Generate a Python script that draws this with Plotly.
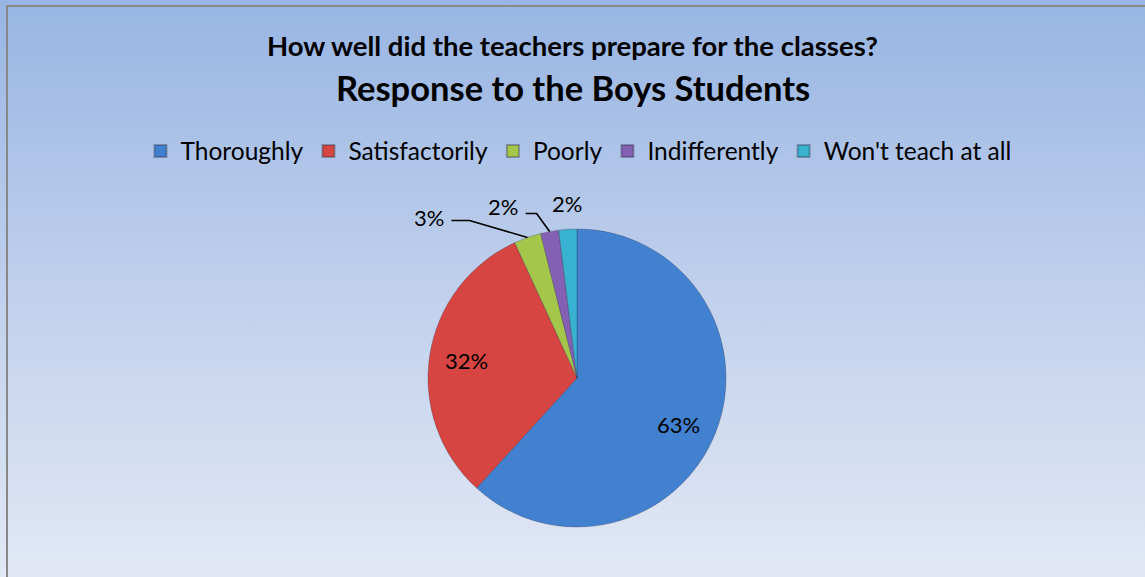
import base64
import math
import plotly.graph_objects as go

categories = ["Thoroughly", "Satisfactorily", "Poorly", "Indifferently", "Won't teach at all"]
percent_values = [63, 32, 3, 2, 2]
slice_colors = ["#4281cf", "#d64541", "#a4c64a", "#8460b4", "#38b2d0"]
title_line1 = "How well did the teachers prepare for the classes?"
title_line2 = "Response to the Boys Students"

W, H = 1145, 577
FONT = "Lato, 'Open Sans', sans-serif"

# pie geometry (pixels)
CX, CY, R = 577, 378, 149
# label styling: inside labels at a fraction of radius; outside labels offset from slice edge
INSIDE_FRAC = 0.75
label_style = [
    dict(kind="inside", shift=(-3, 6)),
    dict(kind="inside", shift=(0, 0)),
    dict(kind="outside", text=(-98, -20), leader=[(-58, -17), (-76, -17)]),
    dict(kind="outside", text=(-47, -25), leader=[(-13, -18), (-24, -18)]),
    dict(kind="outside", text=(-1, -26), leader=None),
]

svg = f'''<svg xmlns="http://www.w3.org/2000/svg" width="{W}" height="{H}" preserveAspectRatio="none">
<defs><linearGradient id="g" x1="0" y1="0" x2="0" y2="1">
<stop offset="0" stop-color="#98b5e3"/><stop offset="0.5" stop-color="#c0d0ec"/><stop offset="1" stop-color="#e2e8f5"/>
</linearGradient></defs><rect width="{W}" height="{H}" fill="url(#g)"/></svg>'''
bg_src = "data:image/svg+xml;base64," + base64.b64encode(svg.encode()).decode()


def px(x, y):
    return x / W, 1 - y / H


fig = go.Figure()
fig.add_trace(go.Pie(
    labels=categories,
    values=percent_values,
    sort=False,
    direction="clockwise",
    rotation=0,
    marker=dict(colors=slice_colors, line=dict(color="rgba(40,40,60,0.35)", width=0.8)),
    textinfo="none",
    domain=dict(x=[(CX - R) / W, (CX + R) / W], y=[(H - CY - R) / H, (H - CY + R) / H]),
    hoverinfo="label+percent",
    automargin=False,
))

annotations = [
    dict(text=f"<b>{title_line1}</b>", x=0.5, y=1 - 45 / H, xref="paper", yref="paper",
         showarrow=False, xanchor="center", yanchor="middle",
         font=dict(family=FONT, size=27.5, color="#000000")),
    dict(text=f"<b>{title_line2}</b>", x=0.5, y=1 - 87 / H, xref="paper", yref="paper",
         showarrow=False, xanchor="center", yanchor="middle",
         font=dict(family=FONT, size=34.5, color="#000000")),
]
shapes = [
    dict(type="line", xref="paper", yref="paper", x0=6 / W, x1=1, y0=1 - 6 / H, y1=1 - 6 / H,
         line=dict(color="#888888", width=2)),
    dict(type="line", xref="paper", yref="paper", x0=7 / W, x1=7 / W, y0=0, y1=1 - 6 / H,
         line=dict(color="#888888", width=2)),
]

total = sum(percent_values)
cum = 0.0
for val, style in zip(percent_values, label_style):
    mid = (cum + val / 2) / total * 2 * math.pi
    cum += val
    ux, uy = math.sin(mid), -math.cos(mid)
    label = f"{val}%"
    if style["kind"] == "inside":
        tx = CX + ux * R * INSIDE_FRAC + style["shift"][0]
        ty = CY + uy * R * INSIDE_FRAC + style["shift"][1]
    else:
        ex, ey = CX + ux * R, CY + uy * R
        tx, ty = ex + style["text"][0], ey + style["text"][1]
        if style["leader"]:
            pts = [(ex, ey)] + [(ex + dx, ey + dy) for dx, dy in style["leader"]]
            path = "M " + " L ".join(f"{px(a, b)[0]:.5f},{px(a, b)[1]:.5f}" for a, b in pts)
            shapes.append(dict(type="path", xref="paper", yref="paper", path=path,
                               line=dict(color="#000000", width=1.6)))
    ax_, ay_ = px(tx, ty)
    annotations.append(dict(text=label, x=ax_, y=ay_, xref="paper", yref="paper",
                            showarrow=False, xanchor="center", yanchor="middle",
                            font=dict(family=FONT, size=22, color="#000000")))

fig.update_layout(
    width=W, height=H,
    margin=dict(l=0, r=0, t=0, b=0),
    paper_bgcolor="#dfe6f3",
    plot_bgcolor="rgba(0,0,0,0)",
    font=dict(family=FONT, color="#000000"),
    showlegend=True,
    legend=dict(
        orientation="h", x=0.5 + 6 / W, xanchor="center", y=1 - 151 / H, yanchor="middle",
        font=dict(family=FONT, size=24.5, color="#000000"),
        bgcolor="rgba(0,0,0,0)", itemsizing="constant", traceorder="normal",
    ),
    images=[dict(source=bg_src, xref="paper", yref="paper", x=0, y=1, sizex=1, sizey=1,
                 xanchor="left", yanchor="top", sizing="stretch", layer="below")],
    annotations=annotations,
    shapes=shapes,
)

fig.write_html("out.html", config={"displayModeBar": False},
               post_script="document.body.style.margin='0px';document.body.style.overflow='hidden';")
